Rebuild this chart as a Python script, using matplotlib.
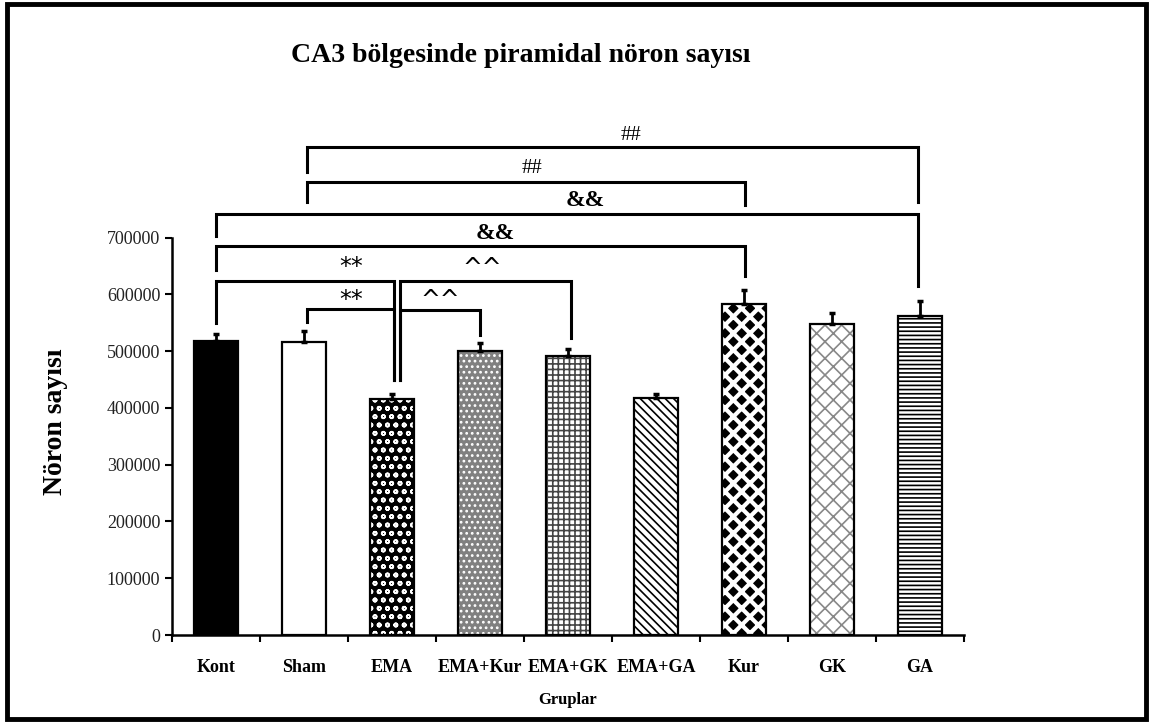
import matplotlib
matplotlib.use("Agg")
import matplotlib.pyplot as plt
from matplotlib.patches import Rectangle

groups = ["Kont", "Sham", "EMA", "EMA+Kur", "EMA+GK", "EMA+GA", "Kur", "GK", "GA"]
values = [517000, 516000, 415000, 500000, 491000, 418000, 583000, 547000, 561000]
errors = [14000, 19000, 9000, 14000, 12000, 7000, 25000, 21000, 28000]

# significance brackets: left group, right group, top, left foot, right foot
brackets = [
    (1.03, 7.98, 860000, 816000, 763000),
    (1.03, 6.01, 798000, 763000, 757000),
    (0.0, 7.98, 742000, 703000, 614000),
    (0.0, 6.01, 685000, 643000, 632000),
    (0.0, 2.025, 624000, 550000, 449000),
    (1.03, 2.025, 574000, 552000, 449000),
    (2.095, 3.0, 572000, 449000, 528000),
    (2.095, 4.03, 624000, 449000, 523000),
]
marks = ["##", "##", "&&", "&&", "**", "**", "^^", "^^"]
mark_x = [4.72, 3.59, 4.20, 3.17, 1.54, 1.54, 2.55, 3.03]
mark_y = [879000, 821000, 765000, 708000, 649000, 590000, 590000, 646000]

# fill, hatch colour, hatch per bar
faces = ["black", "white", "black", "#808080", "white", "white", "black", "white", "white"]
hcolors = ["black", "white", "white", "white", "#444444", "black", "white", "#888888", "black"]
hatches = [None, None, "oo", "...", "+++", "\\\\\\\\", "xx", "xx", "----"]
hwidths = [1.2, 1.2, 1.2, 1.2, 1.2, 1.2, 3.0, 1.2, 1.2]

plt.rcParams["font.family"] = ["Liberation Serif", "DejaVu Serif"]
plt.rcParams["hatch.linewidth"] = 1.2

fig = plt.figure(figsize=(11.52, 7.24), dpi=100)
ax = fig.add_axes([0.1493, 0.1229, 0.6875, 0.7058])

x = list(range(len(groups)))
for i in x:
    b = ax.bar(i, values[i], width=0.51, color=faces[i], edgecolor=hcolors[i],
               hatch=hatches[i], linewidth=0, zorder=2)
    try:
        b[0].set_hatch_linewidth(hwidths[i])
    except AttributeError:
        pass
    ax.bar(i, values[i], width=0.51, fill=False, edgecolor="black",
           linewidth=1.6, zorder=3)
ax.errorbar(x, values, yerr=[[0] * len(errors), errors], fmt="none", ecolor="black",
            elinewidth=2, capsize=2.5, capthick=2.5, zorder=4)

for (x1, x2, top, f1, f2) in brackets:
    ax.plot([x1, x1, x2, x2], [f1, top, top, f2], color="black", lw=2.2,
            clip_on=False, solid_joinstyle="miter", zorder=5)

for m, tx, ty in zip(marks, mark_x, mark_y):
    if m in ("**", "^^"):
        ax.text(tx, ty, m, ha="center", va="center", fontsize=17,
                family="DejaVu Sans", clip_on=False)
    elif m == "&&":
        ax.text(tx, ty, m, ha="center", va="center", fontsize=17,
                fontweight="bold", clip_on=False)
    else:
        ax.text(tx, ty, m, ha="center", va="center", fontsize=15, clip_on=False)

ax.set_xlim(-0.5, 8.5)
ax.set_ylim(0, 900000)
ax.set_yticks(range(0, 700001, 100000))
ax.tick_params(axis="y", labelsize=13, labelcolor="#222222", length=5, width=1.5)
ax.set_xticks(x)
ax.set_xticklabels(groups, fontweight="bold", fontsize=13)
ax.set_xticks([i - 0.5 for i in range(len(groups) + 1)], minor=True)
ax.tick_params(axis="x", which="major", length=0, pad=17)
ax.tick_params(axis="x", which="minor", length=5, width=1.5)
ax.spines["top"].set_visible(False)
ax.spines["right"].set_visible(False)
ax.spines["left"].set_bounds(0, 700000)
ax.spines["left"].set_linewidth(1.8)
ax.spines["bottom"].set_linewidth(1.8)

ax.set_xlabel("Gruplar", fontweight="bold", fontsize=12, labelpad=12)
fig.text(0.048, 0.418, "Nöron sayısı", rotation=90, ha="center", va="center",
         fontsize=20, fontweight="bold")
fig.text(0.452, 0.924, "CA3 bölgesinde piramidal nöron sayısı", ha="center",
         va="center", fontsize=20, fontweight="bold")

fig.patches.append(Rectangle((0.0065, 0.007), 0.988, 0.988, transform=fig.transFigure,
                             fill=False, edgecolor="black", linewidth=3.5))

fig.savefig("out.png", dpi=100)
